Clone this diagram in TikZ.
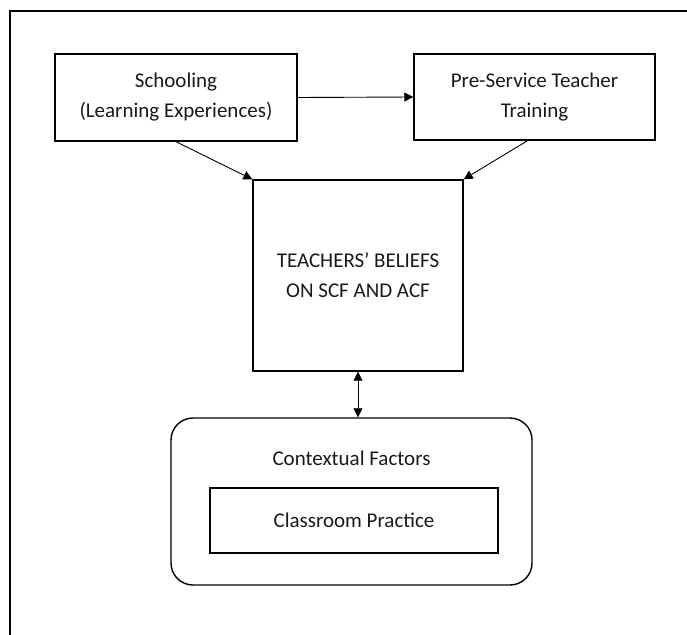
\documentclass[tikz,border=0pt]{standalone}
\usepackage{fontspec}
\setmainfont{Carlito}
\usetikzlibrary{arrows.meta}
\newcommand{\fs}{\fontsize{21}{30}\selectfont}

\begin{document}
\begin{tikzpicture}[x=1pt, y=-1pt,
    box/.style={draw, rectangle, line width=1.4pt, align=center, inner sep=0pt, text=black!90, font=\fs},
    link/.style={-{Triangle[length=9pt,width=9pt]}, line width=0.9pt}]
    \useasboundingbox (0,0) rectangle (687,634);
    \clip (0,0) rectangle (687,634);
    % Frame
    \draw[line width=2.2pt] (10,11) rectangle (720,680);

    % Top row
    \node[box, minimum width=242, minimum height=87] (school) at (176,97.5) {Schooling\\(Learning Experiences)};
    \node[box, minimum width=241, minimum height=86] (training) at (534.5,97) {Pre-Service Teacher\\Training};

    % Beliefs
    \node[box, minimum width=210, minimum height=191] (beliefs) at (358,275.5) {TEACHERS’ BELIEFS\\ON SCF AND ACF};

    % Context
    \node[box, rounded corners=22pt, minimum width=361, minimum height=167] (context) at (351.5,501.5) {};
    \node[text=black!90, font=\fs] (context-label) at (351.5,458) {Contextual Factors};
    \node[box, minimum width=288, minimum height=65] (practice) at (354,520.5) {Classroom Practice};

    % Arrows
    \draw[link] (school.east) -- (training.west);
    \draw[link] (school.south) -- (beliefs.north west);
    \draw[link] ([xshift=-7pt]training.south) -- (beliefs.north east);
    \draw[{Triangle[length=9pt,width=9pt]}-{Triangle[length=9pt,width=9pt]}, line width=0.7pt] (beliefs.south) -- (beliefs.south |- context.north);
\end{tikzpicture}
\end{document}
